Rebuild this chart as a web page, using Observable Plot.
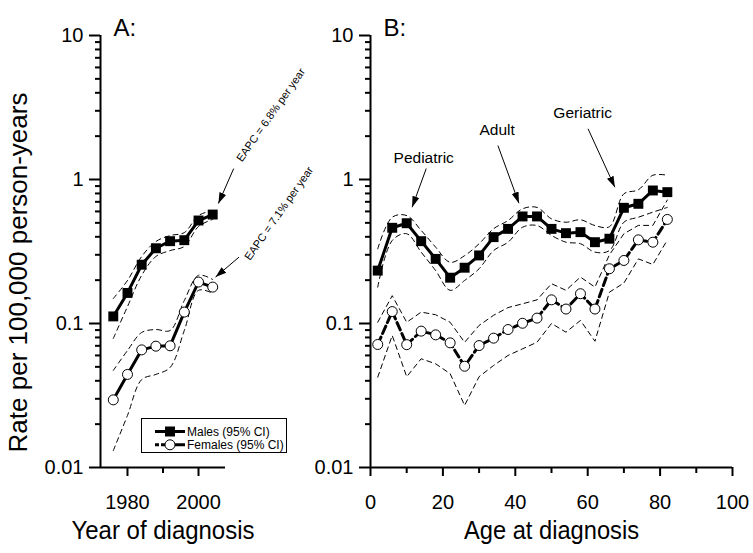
<!DOCTYPE html>
<html><head><meta charset="utf-8">
<script src="https://cdn.jsdelivr.net/npm/d3@7"></script>
<script src="https://cdn.jsdelivr.net/npm/@observablehq/plot@0.6"></script>
<style>
body{margin:0;background:#fff;}
#wrap{position:relative;width:753px;height:553px;overflow:hidden;background:#fff;font-family:"Liberation Sans",Arial,sans-serif;}
#wrap > svg, #wrap > div{position:absolute;top:0;overflow:visible;}
</style></head><body><div id="wrap"></div>
<script>
// ---------- Panel A: rate by year of diagnosis ----------
const years        = [1976, 1980, 1984, 1988, 1992, 1996, 2000, 2004];
const maleRateA    = [0.112, 0.163, 0.256, 0.333, 0.373, 0.379, 0.519, 0.571];
const maleLowA     = [0.0787, 0.131, 0.216, 0.292, 0.321, 0.343, 0.472, 0.528];
const maleHighA    = [0.149, 0.199, 0.292, 0.371, 0.408, 0.428, 0.562, 0.609];
const femaleRateA  = [0.0295, 0.0443, 0.0656, 0.0696, 0.070, 0.120, 0.194, 0.179];
const femaleLowA   = [0.0131, 0.023, 0.0408, 0.0443, 0.0495, 0.0894, 0.170, 0.162];
const femaleHighA  = [0.0472, 0.0649, 0.0866, 0.0908, 0.0894, 0.1445, 0.216, 0.202];

// ---------- Panel B: rate by age at diagnosis ----------
const ages         = [2, 6, 10, 14, 18, 22, 26, 30, 34, 38, 42, 46, 50, 54, 58, 62, 66, 70, 74, 78, 82];
const maleRateB    = [0.233, 0.462, 0.497, 0.373, 0.281, 0.208, 0.244, 0.297, 0.398, 0.454, 0.554, 0.554, 0.454, 0.424, 0.431, 0.367, 0.388, 0.636, 0.678, 0.839, 0.817];
const maleLowB     = [0.179, 0.377, 0.420, 0.313, 0.233, 0.170, 0.199, 0.240, 0.321, 0.367, 0.466, 0.479, 0.409, 0.367, 0.358, 0.313, 0.321, 0.505, 0.547, 0.593, 0.64];
const maleHighB    = [0.33, 0.547, 0.562, 0.443, 0.339, 0.266, 0.296, 0.358, 0.455, 0.519, 0.626, 0.64, 0.533, 0.505, 0.525, 0.479, 0.47, 0.795, 0.848, 1.07, 1.07];
const femaleRateB  = [0.0715, 0.121, 0.0713, 0.0885, 0.0834, 0.0734, 0.0505, 0.0703, 0.0791, 0.0908, 0.1004, 0.109, 0.146, 0.126, 0.161, 0.126, 0.240, 0.274, 0.381, 0.367, 0.528];
const femaleLowB   = [0.0424, 0.0826, 0.0427, 0.0569, 0.0525, 0.0448, 0.0270, 0.0427, 0.0511, 0.060, 0.0667, 0.0741, 0.100, 0.087, 0.105, 0.0753, 0.165, 0.191, 0.281, 0.257, 0.38];
const femaleHighB  = [0.102, 0.156, 0.102, 0.120, 0.115, 0.102, 0.074, 0.097, 0.114, 0.129, 0.137, 0.146, 0.189, 0.170, 0.210, 0.179, 0.30, 0.42, 0.48, 0.48, 0.72];

// ---------- ticks & labels ----------
const yMajorTicks  = [0.01, 0.1, 1, 10];
const yMinorMult   = [2, 3, 4, 5, 6, 7, 8, 9];
const xMajorTicksA = [1980, 2000];
const xMinorTicksA = [1990];
const xMajorTicksB = [0, 20, 40, 60, 80, 100];
const xMinorTicksB = [10, 30, 50, 70, 90];
const yTitle  = "Rate per 100,000 person-years";
const xTitleA = "Year of diagnosis";
const xTitleB = "Age at diagnosis";
const panelLabels = ["A:", "B:"];
const legendLabels = ["Males (95% CI)", "Females (95% CI)"];

// ---------- annotations (data coordinates) ----------
const notesA  = [{text: "EAPC = 6.8% per year", year: 2011.4, rate: 1.355},
                 {text: "EAPC = 7.1% per year", year: 2013.7, rate: 0.281}];
const arrowsA = [{x1: 2009.9, y1: 1.19, x2: 2005.6, y2: 0.681},
                 {x1: 2011.4, y1: 0.289, x2: 2004.8, y2: 0.21}];
const notesB  = [{text: "Pediatric", age: 14.7, rate: 1.399},
                 {text: "Adult", age: 35.0, rate: 2.19},
                 {text: "Geriatric", age: 58.6, rate: 2.896}];
const arrowsB = [{x1: 15.4, y1: 1.192, x2: 11.5, y2: 0.642},
                 {x1: 35.2, y1: 1.72, x2: 41.0, y2: 0.685},
                 {x1: 60.1, y1: 2.25, x2: 67.5, y2: 0.884}];

// ---------- tables ----------
const dataA = years.map((x, i) => ({x, m: maleRateA[i], ml: maleLowA[i], mh: maleHighA[i],
  f: femaleRateA[i], fl: femaleLowA[i], fh: femaleHighA[i]}));
const dataB = ages.map((x, i) => ({x, m: maleRateB[i], ml: maleLowB[i], mh: maleHighB[i],
  f: femaleRateB[i], fl: femaleLowB[i], fh: femaleHighB[i]}));
const yMinorTicks = yMajorTicks.slice(0, -1).flatMap(d => yMinorMult.map(k => +(d * k).toPrecision(3)));

const FONT = "Liberation Sans, Arial, Helvetica, sans-serif";
const fmt = d => String(d);
const blank = () => "";

function yAxisMarks() {
  return [
    Plot.axisY(yMajorTicks, {tickSize: 11, tickPadding: 6, tickFormat: fmt, fontSize: 20, strokeWidth: 2, label: null}),
    Plot.axisY(yMinorTicks, {tickSize: 5, tickFormat: blank, strokeWidth: 2, label: null})
  ];
}

function seriesMarks(data, femaleDash, ciCurveF) {
  return [
    Plot.line(data, {x: "x", y: "mh", stroke: "black", strokeWidth: 1, strokeDasharray: "5,4", curve: "catmull-rom"}),
    Plot.line(data, {x: "x", y: "ml", stroke: "black", strokeWidth: 1, strokeDasharray: "5,4", curve: "catmull-rom"}),
    Plot.line(data, {x: "x", y: "fh", stroke: "black", strokeWidth: 1, strokeDasharray: "5,4", curve: ciCurveF}),
    Plot.line(data, {x: "x", y: "fl", stroke: "black", strokeWidth: 1, strokeDasharray: "5,4", curve: ciCurveF}),
    Plot.line(data, {x: "x", y: "m", stroke: "black", strokeWidth: 3}),
    Plot.line(data, {x: "x", y: "f", stroke: "black", strokeWidth: 3, strokeDasharray: femaleDash}),
    Plot.dot(data, {x: "x", y: "m", symbol: "square", r: 5.6, fill: "black", stroke: "none"}),
    Plot.dot(data, {x: "x", y: "f", symbol: "circle", r: 5, fill: "white", stroke: "black", strokeWidth: 1})
  ];
}

function fixArrowHeads(svg) {
  d3.select(svg).selectAll("marker")
    .attr("viewBox", "-11 -5 12 10")
    .attr("markerWidth", 12).attr("markerHeight", 10)
    .attr("markerUnits", "userSpaceOnUse")
    .attr("fill", "black").attr("stroke", "none")
    .selectAll("path").attr("d", "M-11,-3.6L0,0L-11,3.6Z").attr("fill", "black").attr("stroke", "none");
}

// slightly narrower lettering for the axis titles, as in the reference
function condense(svg, label, length) {
  d3.select(svg).selectAll("text").filter(function() { return this.textContent === label; })
    .attr("textLength", length).attr("lengthAdjust", "spacingAndGlyphs");
}

const commonY = {type: "log", domain: [0.01, 10]};

const plotA = Plot.plot({
  width: 325, height: 553,
  marginLeft: 100, marginRight: 100, marginTop: 35, marginBottom: 86,
  x: {domain: [1972.4, 2007.6]},
  y: commonY,
  style: {fontFamily: FONT, background: "transparent", color: "black", overflow: "visible"},
  marks: [
    ...yAxisMarks(),
    Plot.axisX(xMajorTicksA, {tickSize: 9, tickPadding: 18, tickFormat: fmt, fontSize: 20, strokeWidth: 2, label: null}),
    Plot.axisX(xMinorTicksA, {tickSize: 6, tickFormat: blank, strokeWidth: 2, label: null}),
    ...seriesMarks(dataA, null, "catmull-rom"),
    Plot.ruleX([1972.4], {strokeWidth: 2}),
    Plot.ruleY([0.01], {strokeWidth: 2}),
    Plot.link(arrowsA, {x1: "x1", y1: "y1", x2: "x2", y2: "y2", stroke: "black", strokeWidth: 1, markerEnd: "arrow"}),
    Plot.text(notesA, {x: "year", y: "rate", text: "text", rotate: -55, textAnchor: "start", fontSize: 11}),
    Plot.text([panelLabels[0]], {frameAnchor: "top-left", dx: 13, dy: -17, textAnchor: "start", fontSize: 24}),
    Plot.text([xTitleA], {frameAnchor: "bottom", dy: 71, fontSize: 26}),
    Plot.text([yTitle], {frameAnchor: "left", rotate: -90, textAnchor: "middle", dx: -82, dy: 21, fontSize: 26})
  ]
});

const plotB = Plot.plot({
  width: 428, height: 553,
  marginLeft: 45, marginRight: 21, marginTop: 35, marginBottom: 86,
  x: {domain: [0, 100]},
  y: commonY,
  style: {fontFamily: FONT, background: "transparent", color: "black", overflow: "visible"},
  marks: [
    ...yAxisMarks(),
    Plot.axisX(xMajorTicksB, {tickSize: 9, tickPadding: 18, tickFormat: fmt, fontSize: 20, strokeWidth: 2, label: null}),
    Plot.axisX(xMinorTicksB, {tickSize: 6, tickFormat: blank, strokeWidth: 2, label: null}),
    ...seriesMarks(dataB, "8,4", "linear"),
    Plot.ruleX([0], {strokeWidth: 2}),
    Plot.ruleY([0.01], {strokeWidth: 2}),
    Plot.link(arrowsB, {x1: "x1", y1: "y1", x2: "x2", y2: "y2", stroke: "black", strokeWidth: 1, markerEnd: "arrow"}),
    Plot.text(notesB, {x: "age", y: "rate", text: "text", fontSize: 15.5}),
    Plot.text([panelLabels[1]], {frameAnchor: "top-left", dx: 13, dy: -17, textAnchor: "start", fontSize: 24}),
    Plot.text([xTitleB], {frameAnchor: "bottom", dy: 71, fontSize: 26})
  ]
});

fixArrowHeads(plotA);
fixArrowHeads(plotB);
condense(plotA, xTitleA, 183);
condense(plotB, xTitleB, 175);

const wrap = document.getElementById("wrap");
plotA.style.left = "0px";
plotB.style.left = "325px";
wrap.appendChild(plotA);
wrap.appendChild(plotB);

// legend (inside panel A)
const legend = d3.create("svg").attr("width", 147).attr("height", 36)
  .style("left", "141px").style("top", "418px").style("position", "absolute").style("overflow", "visible");
legend.append("rect").attr("x", 0.5).attr("y", 0.5).attr("width", 145).attr("height", 34)
  .attr("fill", "white").attr("stroke", "black").attr("stroke-width", 1);
legend.append("line").attr("x1", 14).attr("x2", 44).attr("y1", 13.5).attr("y2", 13.5)
  .attr("stroke", "black").attr("stroke-width", 3);
legend.append("rect").attr("x", 24).attr("y", 8.5).attr("width", 10).attr("height", 10).attr("fill", "black");
legend.append("line").attr("x1", 14).attr("x2", 44).attr("y1", 26.8).attr("y2", 26.8)
  .attr("stroke", "black").attr("stroke-width", 3).attr("stroke-dasharray", "4,2,24");
legend.append("circle").attr("cx", 29).attr("cy", 26.8).attr("r", 5).attr("fill", "white").attr("stroke", "black");
legend.selectAll("text").data(legendLabels).join("text")
  .attr("x", 46).attr("y", (d, i) => i ? 31 : 17.7)
  .attr("font-family", FONT).attr("font-size", 12).text(d => d);
wrap.appendChild(legend.node());
</script></body></html>
